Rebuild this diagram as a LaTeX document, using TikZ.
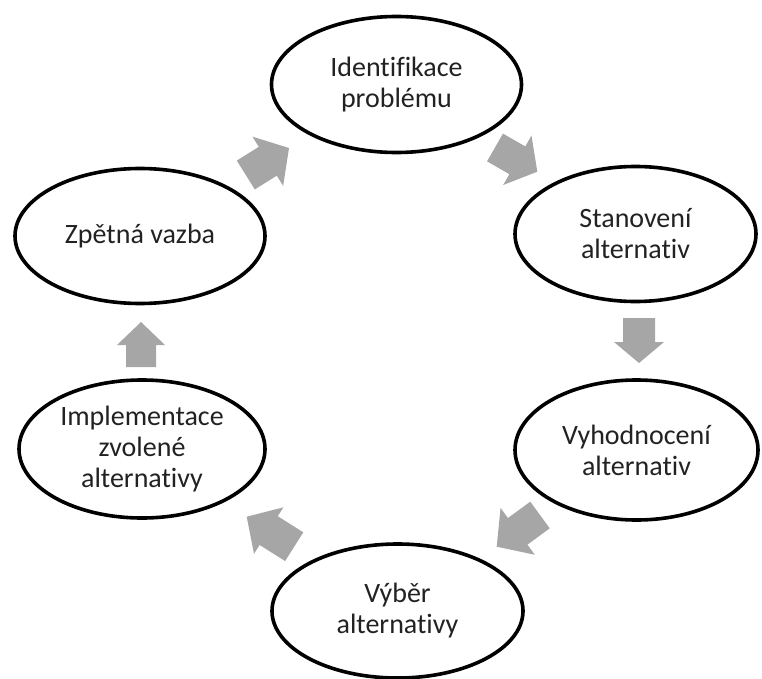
\documentclass[tikz,border=0pt]{standalone}
\usepackage{fontspec}
\setmainfont[Ligatures={NoCommon}]{Carlito}
\usetikzlibrary{shapes.geometric,calc}
\definecolor{arrgray}{HTML}{A6A6A6}
\definecolor{txtcol}{HTML}{222222}
\tikzset{
  stage/.style={ellipse, draw=black, line width=3.6pt, fill=white,
    inner sep=0pt, align=center, text=txtcol,
    font=\fontsize{28}{31}\selectfont},
  blk/.style={fill=arrgray, draw=none}
}
% #1 tail coordinate, #2 tip coordinate, #3 shaft half width, #4 head half width, #5 head length
\newcommand{\blkarrow}[5]{%
  \coordinate (#1b) at ($(#2)!#5!(#1)$);
  \fill[blk] ($(#1)!#3!90:(#2)$) -- ($(#1b)!#3!90:(#2)$) -- ($(#1b)!#4!90:(#2)$)
    -- (#2) -- ($(#1b)!#4!-90:(#2)$) -- ($(#1b)!#3!-90:(#2)$)
    -- ($(#1)!#3!-90:(#2)$) -- cycle;
}
\begin{document}
\begin{tikzpicture}[x=1pt,y=-1pt]
\useasboundingbox (0,0) rectangle (762,679);
% stages
\node[stage, minimum width=250pt, minimum height=136pt] (ident) at (396.5,84.5) {Identifikace\\problému};
\node[stage, minimum width=241pt, minimum height=135pt] (stan) at (635.5,234) {Stanovení\\alternativ};
\node[stage, minimum width=243pt, minimum height=140pt] (vyhod) at (636.5,450) {Vyhodnocení\\alternativ};
\node[stage, minimum width=251pt, minimum height=134pt] (vyber) at (397.5,611) {Výběr\\alternativy};
\node[stage, minimum width=246pt, minimum height=138pt] (impl) at (142,449) {Implementace\\zvolené\\alternativy};
\node[stage, minimum width=250pt, minimum height=135pt] (zpet) at (140,236) {Zpětná vazba};
% block arrows
\coordinate (a1t) at (245.8,175);   \coordinate (a1p) at (289,148);
\coordinate (a2t) at (495,147.5);   \coordinate (a2p) at (537.3,171.7);
\coordinate (a3t) at (639,318);     \coordinate (a3p) at (639,363);
\coordinate (a4t) at (540,515);     \coordinate (a4p) at (496.7,546.7);
\coordinate (a5t) at (294.2,546.7); \coordinate (a5p) at (246.7,516.7);
\coordinate (a6t) at (141,367);     \coordinate (a6p) at (141,322);
\blkarrow{a1t}{a1p}{17pt}{29pt}{25pt}
\blkarrow{a2t}{a2p}{16pt}{28.5pt}{23pt}
\blkarrow{a3t}{a3p}{16pt}{25pt}{21pt}
\blkarrow{a4t}{a4p}{16.5pt}{29pt}{26pt}
\blkarrow{a5t}{a5p}{17pt}{27.5pt}{26pt}
\blkarrow{a6t}{a6p}{15pt}{24pt}{23pt}
\end{tikzpicture}
\end{document}
